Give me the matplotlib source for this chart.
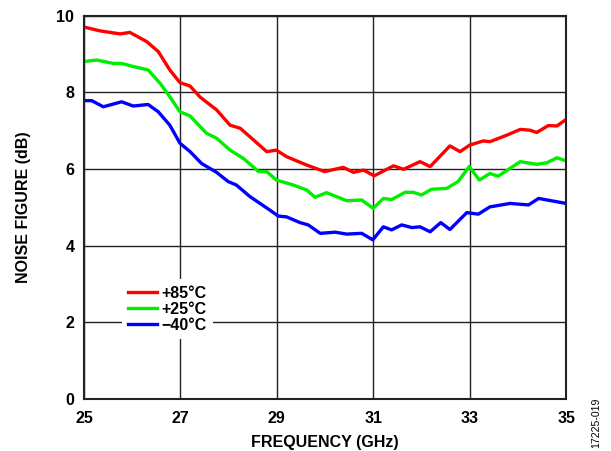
import matplotlib
matplotlib.use("Agg")
import matplotlib.pyplot as plt

plt.rcParams['font.family'] = ['Liberation Sans', 'DejaVu Sans']
plt.rcParams['font.weight'] = 'bold'

# Noise figure vs frequency
freq_85 = [25.0, 25.33, 25.75, 25.95, 26.3, 26.54, 26.78, 26.99, 27.2, 27.41, 27.75, 28.03, 28.24,
           28.44, 28.79, 28.99, 29.2, 29.62, 29.99, 30.38, 30.59, 30.8, 31.02, 31.42, 31.63, 31.97,
           32.18, 32.59, 32.8, 33.0, 33.28, 33.42, 33.77, 34.05, 34.25, 34.39, 34.63, 34.81, 35.0]
nf_85 = [9.70, 9.60, 9.52, 9.56, 9.32, 9.06, 8.58, 8.25, 8.16, 7.87, 7.54, 7.14, 7.06,
         6.84, 6.45, 6.49, 6.32, 6.10, 5.93, 6.04, 5.91, 5.97, 5.82, 6.08, 5.99, 6.19,
         6.06, 6.60, 6.45, 6.62, 6.73, 6.71, 6.88, 7.03, 7.01, 6.95, 7.13, 7.12, 7.29]

freq_25 = [25.0, 25.26, 25.61, 25.78, 26.02, 26.33, 26.58, 26.78, 26.99, 27.2, 27.54, 27.75, 28.03,
           28.31, 28.62, 28.79, 28.99, 29.34, 29.62, 29.79, 30.03, 30.45, 30.76, 31.0, 31.21,
           31.38, 31.66, 31.83, 32.0, 32.21, 32.52, 32.76, 32.99, 33.2, 33.42, 33.59, 34.05,
           34.39, 34.6, 34.81, 35.0]
nf_25 = [8.80, 8.84, 8.75, 8.75, 8.67, 8.58, 8.23, 7.88, 7.49, 7.38, 6.93, 6.80, 6.49,
         6.27, 5.93, 5.93, 5.71, 5.58, 5.45, 5.26, 5.38, 5.17, 5.19, 4.97, 5.23,
         5.20, 5.39, 5.39, 5.32, 5.47, 5.49, 5.67, 6.06, 5.71, 5.88, 5.81, 6.19,
         6.12, 6.16, 6.29, 6.21]

freq_m40 = [25.0, 25.16, 25.4, 25.78, 26.02, 26.33, 26.54, 26.78, 26.99, 27.2, 27.44, 27.75, 27.99,
            28.16, 28.44, 28.85, 29.03, 29.2, 29.48, 29.65, 29.9, 30.21, 30.45, 30.76, 30.99,
            31.21, 31.38, 31.59, 31.8, 31.97, 32.18, 32.4, 32.59, 32.94, 33.18, 33.42, 33.84,
            34.22, 34.43, 35.0]
nf_m40 = [7.78, 7.78, 7.62, 7.75, 7.64, 7.68, 7.49, 7.14, 6.67, 6.45, 6.14, 5.91, 5.67,
          5.58, 5.28, 4.93, 4.77, 4.75, 4.60, 4.54, 4.32, 4.35, 4.30, 4.32, 4.15,
          4.49, 4.41, 4.54, 4.47, 4.49, 4.36, 4.60, 4.42, 4.86, 4.82, 5.01, 5.10,
          5.06, 5.23, 5.10]

xticks = [25, 27, 29, 31, 33, 35]
yticks = [0, 2, 4, 6, 8, 10]

fig = plt.figure(figsize=(6.11, 4.51), dpi=100)
ax = fig.add_axes([0.1375, 0.1153, 0.789, 0.8503])

ax.plot(freq_85, nf_85, color='#ff0000', lw=2.4, label='+85°C')
ax.plot(freq_25, nf_25, color='#00ee00', lw=2.4, label='+25°C')
ax.plot(freq_m40, nf_m40, color='#0000ff', lw=2.4, label='\u221240°C')

ax.set_xlim(25, 35)
ax.set_ylim(0, 10)
ax.set_xticks(xticks)
ax.set_yticks(yticks)
ax.tick_params(length=0, labelsize=11.5)
ax.tick_params(axis='x', pad=9)
ax.tick_params(axis='y', pad=7)
for lab in ax.get_xticklabels() + ax.get_yticklabels():
    lab.set_fontweight('bold')
ax.grid(True, color='#222222', lw=1.0)
ax.set_axisbelow(True)
for s in ax.spines.values():
    s.set_linewidth(1.5)
    s.set_color('#222222')

ax.set_xlabel('FREQUENCY (GHz)', fontsize=11.5, fontweight='bold', labelpad=6)
ax.set_ylabel('NOISE FIGURE (dB)', fontsize=11.5, fontweight='bold', labelpad=18)

leg = ax.legend(loc='upper left', bbox_to_anchor=(0.078, 0.312), borderaxespad=0,
                frameon=True, fancybox=False, edgecolor='none', facecolor='white', framealpha=1,
                handlelength=1.8, handletextpad=0.3, labelspacing=0.07, borderpad=0.4,
                prop={'size': 11.5, 'weight': 'bold'})

fig.text(0.975, 0.062, '17225-019', rotation=90, fontsize=7.6, fontweight='normal',
         ha='center', va='center')

fig.savefig('out.png', dpi=100)
